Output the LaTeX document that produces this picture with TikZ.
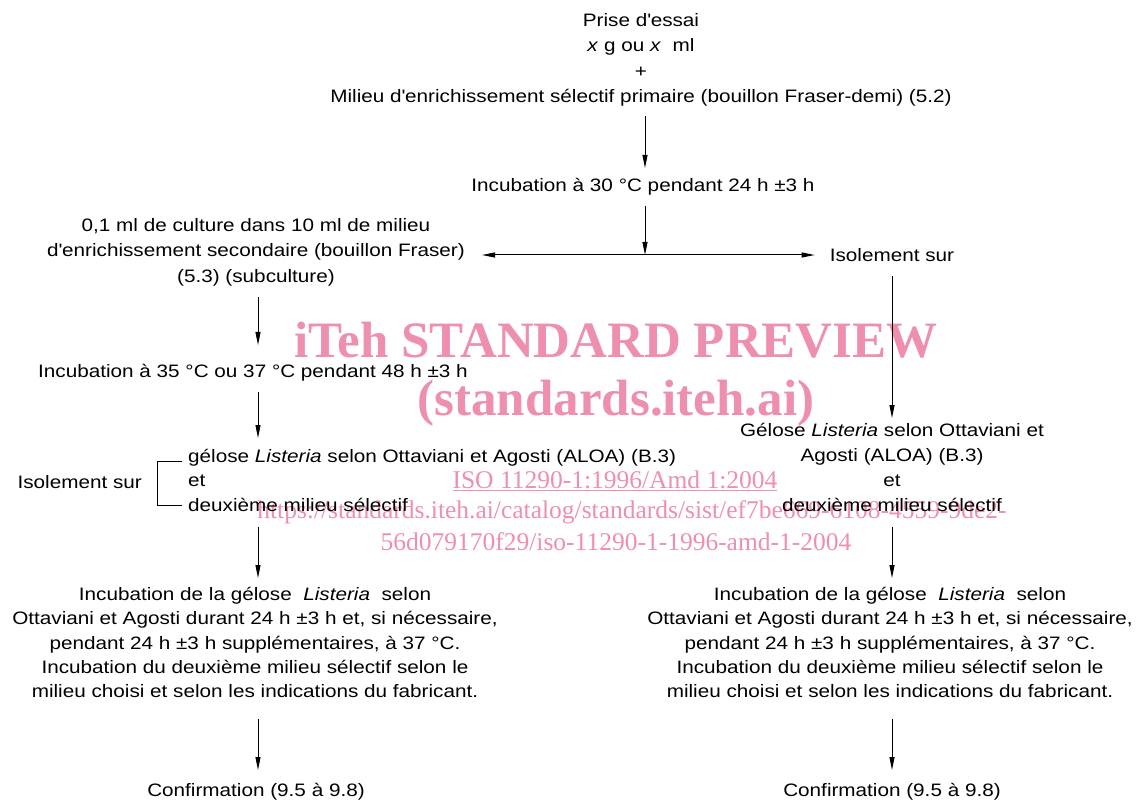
\documentclass[tikz,border=0pt]{standalone}
\usepackage{fontspec}
\setmainfont{Liberation Sans}[FakeStretch=1.15]
\newfontfamily\wmfont{Liberation Serif}
\usetikzlibrary{arrows.meta,positioning,calc}
\definecolor{wmpink}{RGB}{238,143,173}

\begin{document}
\begin{tikzpicture}[x=1pt,y=-1pt,
  every node/.style={inner sep=0pt, align=center, anchor=north,
    font=\fontsize{18}{25.5}\selectfont,
    execute at begin node={\rule{0pt}{17pt}},
    execute at end node={\rule[-5pt]{0pt}{5pt}}},
  flow/.style={-{Triangle[length=13pt,width=5pt]}, line width=1pt,
    shorten <=10pt, shorten >=9pt},
  wm/.style={anchor=base, text=wmpink, font=\wmfont\fontsize{25.5}{25.5}\selectfont},
  tight/.style={font=\fontsize{18}{24.3}\selectfont}]
\useasboundingbox (0,0) rectangle (1138,802);

% watermark, behind the chart
\node[wm, font=\wmfont\bfseries\fontsize{51}{51}\selectfont] (wmA) at (616,357) {iTeh STANDARD PREVIEW};
\node[wm, font=\wmfont\bfseries\fontsize{51}{51}\selectfont] (wmB) at (616,415) {(standards.iteh.ai)};
\node[wm] (wmC) at (615,488) {\underline{ISO 11290-1:1996/Amd 1:2004}};
\node[wm] (wmD) at (632,518) {https://standards.iteh.ai/catalog/standards/sist/ef7be669-6108-4559-9de2-};
\node[wm] (wmE) at (616,550) {56d079170f29/iso-11290-1-1996-amd-1-2004};

% top of the chart
\node (prise) at (641,13) {Prise d\textquotesingle essai\\ \textit{x} g ou \textit{x}\ \ ml\\ +\\
  Milieu d\textquotesingle enrichissement sélectif primaire (bouillon Fraser-demi) (5.2)};
\node (inc30) at (643,174) {Incubation à 30 °C pendant 24 h ±3 h};
\coordinate (split) at (645,255);
\coordinate (colL) at (258,0);

% left branch
\node (sub) at (256,218) {0,1 ml de culture dans 10 ml de milieu\\
  d\textquotesingle enrichissement secondaire (bouillon Fraser)\\ (5.3) (subculture)};
\node (inc35) at (253,360) {Incubation à 35 °C ou 37 °C pendant 48 h ±3 h};
\node[anchor=north west, align=left, font=\fontsize{18}{24.5}\selectfont] (list) at (188,449)
  {gélose \textit{Listeria} selon Ottaviani et Agosti (ALOA) (B.3)\\ et\\ deuxième milieu sélectif};
\node[left=46pt of list] (isoL) {Isolement sur};
\node[tight] (blkL) at (255,587) {Incubation de la gélose \ \textit{Listeria} \ selon\\
  Ottaviani et Agosti durant 24 h ±3 h et, si nécessaire,\\
  pendant 24 h ±3 h supplémentaires, à 37 °C.\\
  Incubation du deuxième milieu sélectif selon le\\
  milieu choisi et selon les indications du fabricant.};
\node (confL) at (256,779) {Confirmation (9.5 à 9.8)};

% right branch
\node (iso) at (892,244) {Isolement sur};
\node[font=\fontsize{18}{25}\selectfont] (gelR) at (892,423) {Gélose \textit{Listeria} selon Ottaviani et\\
  Agosti (ALOA) (B.3)\\ et\\ deuxième milieu sélectif};
\node[tight] (blkR) at (890,587) {Incubation de la gélose \ \textit{Listeria} \ selon\\
  Ottaviani et Agosti durant 24 h ±3 h et, si nécessaire,\\
  pendant 24 h ±3 h supplémentaires, à 37 °C.\\
  Incubation du deuxième milieu sélectif selon le\\
  milieu choisi et selon les indications du fabricant.};
\node (confR) at (892,779) {Confirmation (9.5 à 9.8)};

% arrows
\draw[flow, shorten <=8pt, shorten >=6pt] (prise.south -| split) -- (inc30.north -| split);
\draw[flow, shorten >=0pt] (inc30.south -| split) -- (split);
\draw[flow, shorten <=0pt, shorten >=17pt] (split) -- (split -| sub.east);
\draw[flow, shorten <=0pt, shorten >=15pt] (split) -- (split -| iso.west);
\draw[flow, shorten >=15pt] (sub.south -| colL) -- (inc35.north -| colL);
\draw[flow, shorten >=11pt] (inc35.south -| colL) -- (list.north -| colL);
\draw[line width=1pt] ($(list.north west)+(-6,12)$) -- ++(-25,0) |- ($(list.south west)+(-6,-11)$);
\draw[flow] (list.south -| colL) -- (blkL.north -| colL);
\draw[flow, shorten <=16pt] (blkL.south -| colL) -- (confL.north -| colL);
\draw[flow, shorten >=5pt] (iso) -- (gelR);
\draw[flow] (gelR) -- (gelR |- blkR.north);
\draw[flow, shorten <=16pt] (blkR.south -| gelR) -- (gelR |- confR.north);
\end{tikzpicture}
\end{document}
